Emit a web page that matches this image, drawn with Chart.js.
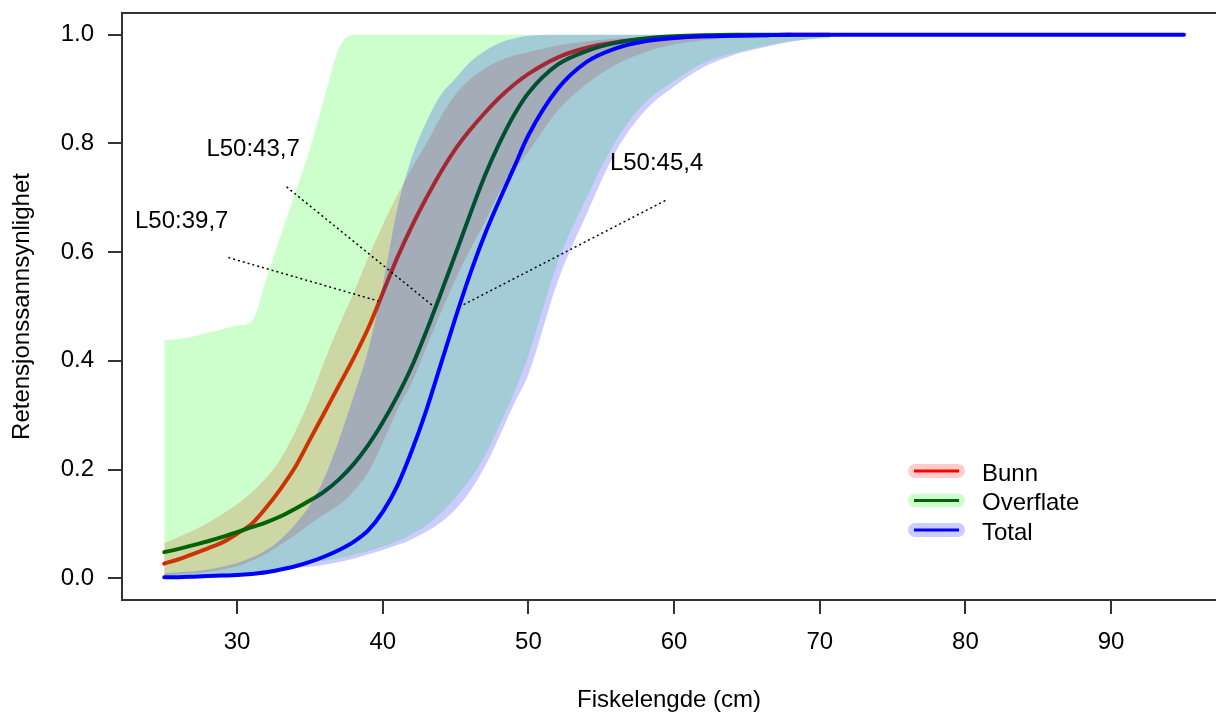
<!DOCTYPE html>
<html>
<head>
<meta charset="utf-8">
<script src="https://cdn.jsdelivr.net/npm/chart.js@4"></script>
<style>
  html, body { margin: 0; padding: 0; background: #fff; }
  canvas { display: block; }
</style>
</head>
<body>
<canvas id="chart" width="1216" height="715"></canvas>
<script>
// lengder (cm) som alle seriene er lest av ved
const fiskelengde = [25, 26, 27, 28, 29, 30, 31, 32, 33, 34,
  35, 36, 37, 38, 39, 40, 41, 42, 43, 44,
  45, 46, 47, 48, 49, 50,
  52, 54, 56, 58, 60, 62, 64, 66, 68, 70.7,
  75, 80, 85, 90, 95]

// retensjonskurver
const bunn = [0.027, 0.035, 0.045, 0.055, 0.066, 0.082, 0.10, 0.13, 0.165, 0.205,
  0.255, 0.305, 0.355, 0.405, 0.46, 0.525, 0.59, 0.648, 0.70, 0.748,
  0.79, 0.825, 0.856, 0.884, 0.908, 0.928,
  0.958, 0.976, 0.986, 0.992, 0.995, 0.997, 0.998, 0.999, 1.0, 1.0,
  null, null, null, null, null]
const overflate = [0.048, 0.054, 0.061, 0.068, 0.076, 0.085, 0.094, 0.103, 0.114, 0.128,
  0.143, 0.16, 0.182, 0.21, 0.245, 0.287, 0.335, 0.39, 0.455, 0.525,
  0.597, 0.67, 0.74, 0.80, 0.852, 0.893,
  0.945, 0.97, 0.985, 0.993, 0.997, 0.999, 1.0, 1.0, 1.0, null,
  null, null, null, null, null]
const total = [0.002, 0.002, 0.003, 0.004, 0.005, 0.006, 0.008, 0.011, 0.016, 0.022,
  0.03, 0.04, 0.052, 0.067, 0.088, 0.122, 0.17, 0.235, 0.31, 0.395,
  0.48, 0.56, 0.632, 0.695, 0.755, 0.815,
  0.90, 0.95, 0.975, 0.988, 0.994, 0.997, 0.998, 0.999, 1.0, 1.0,
  1.0, 1.0, 1.0, 1.0, 1.0]

// konfidensband (nedre / øvre)
const bunnNedre = [0.005, 0.007, 0.009, 0.012, 0.016, 0.022, 0.032, 0.045, 0.062, 0.08,
  0.10, 0.118, 0.135, 0.16, 0.195, 0.25, 0.31, 0.36, 0.425, 0.49,
  0.55, 0.605, 0.655, 0.71, 0.75, 0.785,
  0.86, 0.91, 0.945, 0.968, 0.982, 0.99, 0.995, 0.997, 0.999, 1.0,
  null, null, null, null, null]
const bunnOvre = [0.065, 0.076, 0.088, 0.102, 0.118, 0.136, 0.158, 0.185, 0.22, 0.27,
  0.33, 0.40, 0.465, 0.525, 0.59, 0.65, 0.705, 0.755, 0.80, 0.85,
  0.89, 0.918, 0.938, 0.952, 0.962, 0.968,
  0.98, 0.988, 0.993, 0.996, 0.998, 1.0, 1.0, 1.0, 1.0, 1.0,
  null, null, null, null, null]
const overflateNedre = [0.0, 0.001, 0.002, 0.003, 0.004, 0.006, 0.009, 0.012, 0.016, 0.021,
  0.027, 0.032, 0.037, 0.043, 0.05, 0.058, 0.068, 0.081, 0.098, 0.12,
  0.148, 0.182, 0.225, 0.28, 0.34, 0.41,
  0.58, 0.70, 0.805, 0.875, 0.915, 0.948, 0.966, 0.978, 0.988, 0.994,
  null, null, null, null, null]
const overflateOvre = [0.438, 0.44, 0.445, 0.452, 0.458, 0.465, 0.472, 0.55, 0.63, 0.71,
  0.79, 0.885, 0.975, 1.0, 1.0, 1.0, 1.0, 1.0, 1.0, 1.0,
  1.0, 1.0, 1.0, 1.0, 1.0, 1.0,
  1.0, 1.0, 1.0, 1.0, 1.0, 1.0, 1.0, 1.0, 1.0, 1.0,
  null, null, null, null, null]
const totalNedre = [0.0, 0.001, 0.002, 0.003, 0.004, 0.006, 0.009, 0.012, 0.015, 0.019,
  0.021, 0.025, 0.03, 0.036, 0.044, 0.052, 0.061, 0.072, 0.086, 0.103,
  0.127, 0.16, 0.205, 0.26, 0.32, 0.375,
  0.545, 0.67, 0.785, 0.86, 0.905, 0.94, 0.962, 0.976, 0.987, 0.996,
  1.0, 1.0, 1.0, 1.0, 1.0]
const totalOvre = [0.009, 0.011, 0.013, 0.016, 0.021, 0.028, 0.038, 0.052, 0.072, 0.10,
  0.135, 0.185, 0.255, 0.335, 0.42, 0.54, 0.68, 0.775, 0.84, 0.89,
  0.92, 0.95, 0.97, 0.985, 0.993, 0.998,
  1.0, 1.0, 1.0, 1.0, 1.0, 1.0, 1.0, 1.0, 1.0, 1.0,
  1.0, 1.0, 1.0, 1.0, 1.0]

const serier = ['Bunn', 'Overflate', 'Total']
const xTicks = [30, 40, 50, 60, 70, 80, 90]
const yTicks = [0, 0.2, 0.4, 0.6, 0.8, 1.0]

// L50-merking: tekst og stiplet linje ned til kurven
const l50Tekst = ['L50:39,7', 'L50:43,7', 'L50:45,4']
const l50TekstX = [26.2, 31.1, 58.8]
const l50TekstY = [0.656, 0.79, 0.764]
const l50LinjeX = [[29.4, 39.7], [33.4, 43.5], [59.4, 45.3]]
const l50LinjeY = [[0.59, 0.51], [0.72, 0.5], [0.695, 0.5]]

const linjeFarger = ['#ff0000', '#006400', '#0000ff']
const bandFarger = ['rgba(255,0,0,0.2)', 'rgba(0,255,0,0.2)', 'rgba(0,0,255,0.2)']
const fontFamily = '"Liberation Sans", Arial, sans-serif'

const points = (ys) => fiskelengde.map((x, i) => ({x: x, y: ys[i]}))

const band = (ys, fill, color, order) => ({
    data: points(ys),
    borderWidth: 0,
    borderColor: 'transparent',
    backgroundColor: color,
    pointRadius: 0,
    fill: fill,
    order: order,
    cubicInterpolationMode: 'monotone'
})

const linje = (ys, color, order) => ({
    data: points(ys),
    borderColor: color,
    borderWidth: 4,
    borderCapStyle: 'round',
    pointRadius: 0,
    fill: false,
    order: order,
    cubicInterpolationMode: 'monotone'
})

let datasets = [
    band(bunnNedre, false, 'transparent', 9),
    band(bunnOvre, '-1', bandFarger[0], 9),
    linje(bunn, linjeFarger[0], 8),
    band(overflateNedre, false, 'transparent', 7),
    band(overflateOvre, '-1', bandFarger[1], 7),
    linje(overflate, linjeFarger[1], 6),
    band(totalNedre, false, 'transparent', 5),
    band(totalOvre, '-1', bandFarger[2], 5),
    linje(total, linjeFarger[2], 4)
]
l50LinjeX.forEach((xs, i) => {
    datasets.push({
        data: xs.map((x, j) => ({x: x, y: l50LinjeY[i][j]})),
        borderColor: '#000',
        borderWidth: 1.5,
        borderDash: [2, 3],
        pointRadius: 0,
        fill: false,
        order: 1
    })
})

// topplinje, L50-tekst og forklaring
const tekstPlugin = {
    id: 'tekst',
    afterDatasetsDraw(chart) {
        const {ctx, chartArea, scales} = chart
        ctx.save()
        ctx.strokeStyle = '#333'
        ctx.lineWidth = 2
        ctx.beginPath()
        ctx.moveTo(chartArea.left - 1, chartArea.top)
        ctx.lineTo(chartArea.right, chartArea.top)
        ctx.stroke()

        ctx.font = '24px ' + fontFamily
        ctx.fillStyle = '#000'
        ctx.textAlign = 'center'
        ctx.textBaseline = 'middle'
        l50Tekst.forEach((t, i) => {
            ctx.fillText(t, scales.x.getPixelForValue(l50TekstX[i]), scales.y.getPixelForValue(l50TekstY[i]))
        })

        serier.forEach((navn, i) => {
            const ly = 471 + i * 29.5
            ctx.lineCap = 'round'
            ctx.lineWidth = 14
            ctx.strokeStyle = bandFarger[i]
            ctx.beginPath()
            ctx.moveTo(915, ly)
            ctx.lineTo(958, ly)
            ctx.stroke()
            ctx.lineCap = 'butt'
            ctx.lineWidth = 3
            ctx.strokeStyle = linjeFarger[i]
            ctx.beginPath()
            ctx.moveTo(914, ly)
            ctx.lineTo(959, ly)
            ctx.stroke()
            ctx.textAlign = 'left'
            ctx.fillText(navn, 982, ly + 3)
        })
        ctx.restore()
    }
}

Chart.defaults.font.family = fontFamily
Chart.defaults.font.size = 24
Chart.defaults.color = '#000'

let ctx = document.getElementById('chart').getContext('2d')
let chart = new Chart(ctx, {
    type: 'line',
    data: { datasets: datasets },
    options: {
        responsive: false,
        animation: false,
        events: [],
        layout: { padding: { top: 13, right: 0, left: 0, bottom: 0 } },
        plugins: {
            legend: { display: false },
            tooltip: { enabled: false }
        },
        scales: {
            x: {
                type: 'linear',
                min: 22.1,
                max: 97.2,
                afterBuildTicks: (scale) => { scale.ticks = xTicks.map(v => ({value: v})) },
                afterFit: (scale) => {
                    scale.height = 115
                    scale.paddingLeft = 0
                    scale.paddingRight = 0
                },
                ticks: { padding: 14, maxRotation: 0, callback: (v) => v },
                grid: { drawOnChartArea: false, tickLength: 14, color: '#333', lineWidth: 2 },
                border: { display: true, color: '#333', width: 2 },
                title: { display: true, text: 'Fiskelengde (cm)', padding: { top: 0, bottom: 0 } }
            },
            y: {
                type: 'linear',
                min: -0.04,
                max: 1.04,
                afterBuildTicks: (scale) => { scale.ticks = yTicks.map(v => ({value: v})) },
                afterFit: (scale) => {
                    scale.width = 122
                    scale.paddingTop = 0
                    scale.paddingBottom = 0
                },
                ticks: { padding: 14, callback: (v) => v.toFixed(1) },
                grid: { drawOnChartArea: false, tickLength: 14, color: '#333', lineWidth: 2 },
                border: { display: true, color: '#333', width: 2 },
                title: { display: true, text: 'Retensjonssannsynlighet', padding: { top: 8, bottom: 0 } }
            }
        }
    },
    plugins: [tekstPlugin]
})
</script>
</body>
</html>
